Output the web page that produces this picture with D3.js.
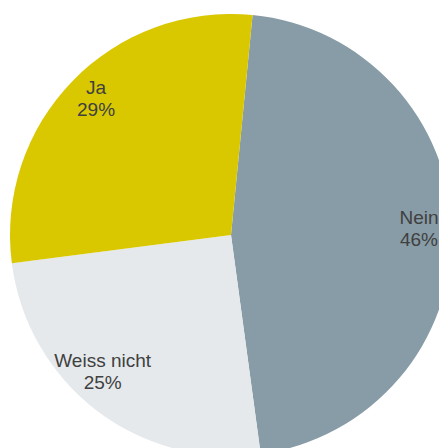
<!DOCTYPE html>
<html>
<head>
<meta charset="utf-8">
<script src="https://cdn.jsdelivr.net/npm/d3@7"></script>
<style>
  html, body { margin: 0; padding: 0; background: #fff; }
  svg { display: block; }
</style>
</head>
<body>
<div id="chart"></div>
<script>
var categories = ["Nein", "Weiss nicht", "Ja"];
var values = [46.3, 25.1, 28.6];
var colors = ["#889ca7", "#e5e9ec", "#d9c800"];

var width = 439, height = 448;
var cx = 231, cy = 235, radius = 221;
var startDeg = 5.6;
// small hand offsets, the way the original tool placed its labels
var labelNudge = { "Weiss nicht": [-14, -9], "Ja": [0, -2] };

var svg = d3.select("#chart")
	.append("svg")
	.attr("width", width)
	.attr("height", height);

var g = svg.append("g")
	.attr("transform", "translate(" + cx + "," + cy + ")");

var pie = d3.pie()
	.sort(null)
	.value(function(d) { return d; })
	.startAngle(startDeg * Math.PI / 180)
	.endAngle(startDeg * Math.PI / 180 + 2 * Math.PI);

var arcs = pie(values);

var arc = d3.arc().innerRadius(0).outerRadius(radius);
var labelArc = d3.arc().innerRadius(188).outerRadius(188);

g.selectAll("path.slice")
	.data(arcs)
	.enter()
	.append("path")
	.attr("class", "slice")
	.attr("d", arc)
	.attr("fill", function(d, i) { return colors[i]; });

var total = d3.sum(values);

var labels = g.selectAll("text.lbl")
	.data(arcs)
	.enter()
	.append("text")
	.attr("class", "lbl")
	.attr("text-anchor", "middle")
	.attr("font-family", "'Liberation Sans', Arial, sans-serif")
	.attr("font-size", 19)
	.attr("fill", "#404040")
	.attr("transform", function(d, i) {
		var c = labelArc.centroid(d);
		var n = labelNudge[categories[i]] || [0, 0];
		return "translate(" + (c[0] + n[0]) + "," + (c[1] + n[1]) + ")";
	});

labels.append("tspan")
	.attr("x", 0)
	.attr("y", -8)
	.text(function(d, i) { return categories[i]; });

labels.append("tspan")
	.attr("x", 0)
	.attr("y", 14)
	.text(function(d) { return Math.round(d.value / total * 100) + "%"; });
</script>
</body>
</html>
